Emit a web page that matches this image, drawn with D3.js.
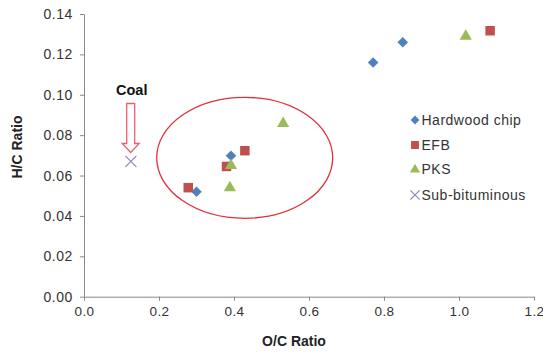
<!DOCTYPE html>
<html><head><meta charset="utf-8">
<script src="https://cdn.jsdelivr.net/npm/d3@7"></script>
<style>body{margin:0;background:#fff}svg{display:block}</style>
</head><body>
<script>
const xTicks = [0, 0.2, 0.4, 0.6, 0.8, 1.0, 1.2];
const yTicks = [0, 0.02, 0.04, 0.06, 0.08, 0.10, 0.12, 0.14];
const seriesNames = ["Hardwood chip", "EFB", "PKS", "Sub-bituminous"];
const hardwoodOC = [0.300, 0.392, 0.771, 0.850];
const hardwoodHC = [0.052, 0.0698, 0.116, 0.126];
const efbOC = [0.278, 0.380, 0.429, 1.083];
const efbHC = [0.054, 0.0645, 0.0723, 0.1317];
const pksOC = [0.389, 0.392, 0.531, 1.018];
const pksHC = [0.054, 0.065, 0.0858, 0.129];
const subbitOC = [0.125];
const subbitHC = [0.067];

const W = 543, H = 353;
const svg = d3.select("body").append("svg").attr("width", W).attr("height", H);
const x = d3.scaleLinear().domain([0, 1.2]).range([84, 534]);
const y = d3.scaleLinear().domain([0, 0.14]).range([296.7, 14]);

const axisColor = "#888";
const textColor = "#333";
const font = "Arial, 'Liberation Sans', sans-serif";

const gx = svg.append("g").attr("transform", "translate(0,296.7)")
  .call(d3.axisBottom(x).tickValues(xTicks).tickFormat(d3.format(".1f")).tickSize(4).tickSizeOuter(0));
const gy = svg.append("g").attr("transform", "translate(84,0)")
  .call(d3.axisLeft(y).tickValues(yTicks).tickFormat(d3.format(".2f")).tickSize(4).tickSizeOuter(0));
[gx, gy].forEach(g => {
  g.select(".domain").attr("stroke", axisColor);
  g.selectAll(".tick line").attr("stroke", axisColor);
  g.selectAll(".tick text").attr("fill", textColor).attr("font-family", font).attr("font-size", 14).attr("letter-spacing", 0.5);
});
gx.selectAll(".tick text").attr("dy", "0.9em").attr("font-size", 13.5).attr("letter-spacing", 0.4);
gy.selectAll(".tick text").attr("dx", "-0.3em");

svg.append("text").attr("x", 294).attr("y", 346).attr("text-anchor", "middle")
  .attr("font-family", font).attr("font-weight", "bold").attr("font-size", 14).attr("fill", "#222").text("O/C Ratio");
svg.append("text").attr("transform", "translate(22,147) rotate(-90)").attr("text-anchor", "middle")
  .attr("font-family", font).attr("font-weight", "bold").attr("font-size", 14).attr("fill", "#222").text("H/C Ratio");

// ellipse annotation
svg.append("ellipse").attr("cx", 244.7).attr("cy", 157.8).attr("rx", 88).attr("ry", 60.5)
  .attr("fill", "none").attr("stroke", "#e0303c").attr("stroke-width", 1.3);

// Coal label and arrow
svg.append("text").attr("x", 116).attr("y", 95).attr("font-family", font).attr("font-weight", "bold")
  .attr("font-size", 14.5).attr("fill", "#111").text("Coal");
const ax = 130.7;
svg.append("path")
  .attr("d", `M${ax-4},103.5 L${ax+4},103.5 L${ax+4},143.5 L${ax+8.5},143.5 L${ax},152.5 L${ax-8.5},143.5 L${ax-4},143.5 Z`)
  .attr("fill", "#fff").attr("stroke", "#e8606c").attr("stroke-width", 1.3);

const colors = ["#4F81BD", "#C0504D", "#9BBB59", "#8a8ab8"];
const data = [
  hardwoodOC.map((v, i) => [v, hardwoodHC[i]]),
  efbOC.map((v, i) => [v, efbHC[i]]),
  pksOC.map((v, i) => [v, pksHC[i]]),
];
function drawSym(g, s, cx, cy, k) {
  if (s === 0) {
    g.append("path").attr("d", d3.symbol().type(d3.symbolSquare).size(56 * k)())
      .attr("transform", `translate(${cx},${cy}) rotate(45)`).attr("fill", colors[0]);
  } else if (s === 1) {
    g.append("path").attr("d", d3.symbol().type(d3.symbolSquare).size(90 * k)())
      .attr("transform", `translate(${cx},${cy})`).attr("fill", colors[1]);
  } else if (s === 2) {
    g.append("path").attr("d", d3.symbol().type(d3.symbolTriangle).size(64 * k)())
      .attr("transform", `translate(${cx},${cy})`).attr("fill", colors[2]);
  } else {
    const r = 5.5 * Math.sqrt(k);
    g.append("path").attr("d", `M${cx-r},${cy-r}L${cx+r},${cy+r}M${cx-r},${cy+r}L${cx+r},${cy-r}`)
      .attr("stroke", colors[3]).attr("stroke-width", 1.2).attr("fill", "none");
  }
}
const marks = svg.append("g");
data.forEach((pts, s) => pts.forEach(p => drawSym(marks, s, x(p[0]), y(p[1]), 1)));
subbitOC.forEach((v, i) => drawSym(marks, 3, x(v), y(subbitHC[i]), 1));

// legend
const lg = svg.append("g");
const ly = [120, 145, 169.5, 195];
seriesNames.forEach((n, i) => {
  drawSym(lg, i, 415, ly[i], 0.7);
  lg.append("text").attr("x", 421.5).attr("y", ly[i]).attr("dy", "0.35em")
    .attr("font-family", font).attr("font-size", 14).attr("letter-spacing", 0.5).attr("fill", textColor).text(n);
});
</script>
</body></html>
